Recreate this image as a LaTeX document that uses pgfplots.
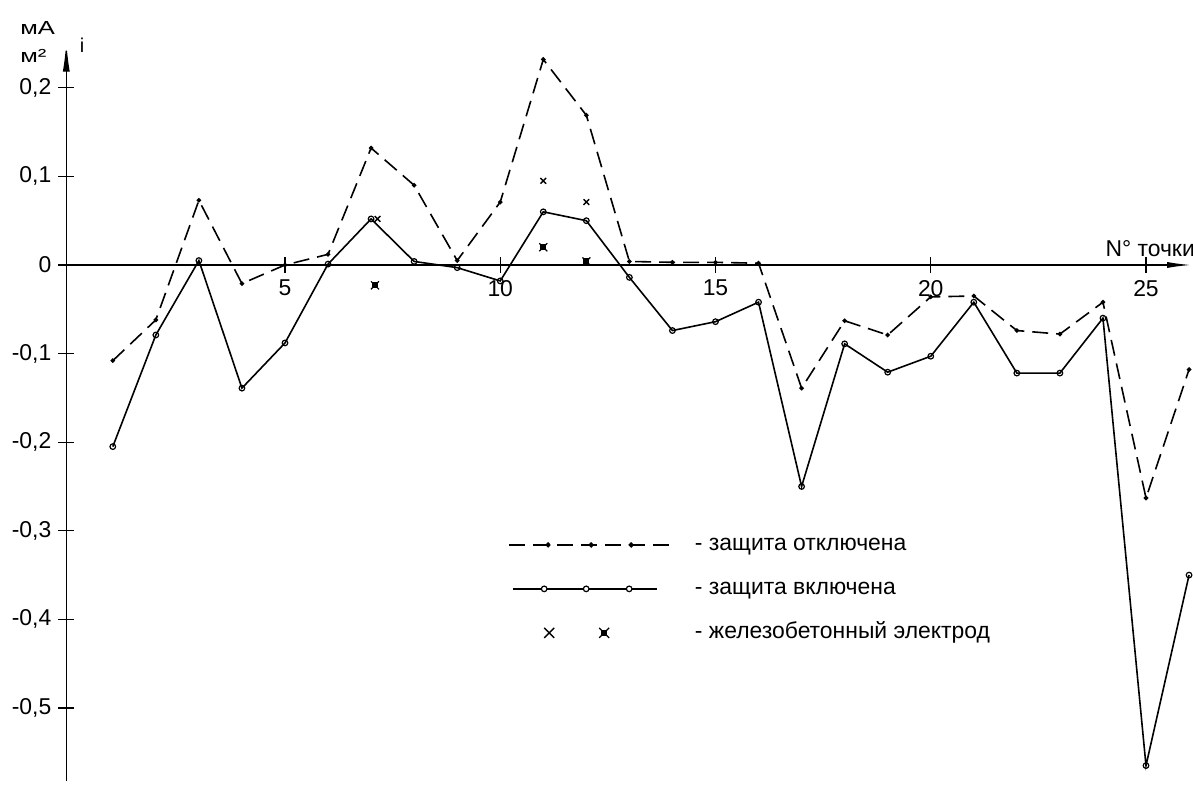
\documentclass[border=0pt]{standalone}
\usepackage{fontspec}
\setmainfont{Liberation Sans}
\usepackage{graphicx}
\usepackage{pgfplots}
\pgfplotsset{compat=1.18}
\usetikzlibrary{arrows.meta}

% electrode mark: a small filled square with a cross over it
\pgfdeclareplotmark{xbox}{%
  \pgfpathrectangle{\pgfpoint{-0.6\pgfplotmarksize}{-0.6\pgfplotmarksize}}{\pgfpoint{1.2\pgfplotmarksize}{1.2\pgfplotmarksize}}%
  \pgfusepathqfillstroke
  \pgfpathmoveto{\pgfpoint{-\pgfplotmarksize}{-\pgfplotmarksize}}%
  \pgfpathlineto{\pgfpoint{\pgfplotmarksize}{\pgfplotmarksize}}%
  \pgfpathmoveto{\pgfpoint{-\pgfplotmarksize}{\pgfplotmarksize}}%
  \pgfpathlineto{\pgfpoint{\pgfplotmarksize}{-\pgfplotmarksize}}%
  \pgfusepathqstroke}

\begin{document}
\begin{tikzpicture}
\begin{axis}[
  x=21.525bp, y=443bp,
  xmin=-0.08, xmax=26.05, ymin=-0.582, ymax=0.252,
  axis x line*=middle, axis y line*=left,
  x axis line style={line width=0.7bp, -{Latex[length=12bp,width=3bp]}},
  y axis line style={line width=0.7bp, -{Latex[length=15bp,width=3.5bp]}},
  hide obscured x ticks=false, hide obscured y ticks=false,
  xtick={5,10,15,20,25},
  xticklabels={5,10,15,20,25},
  ytick={-0.5,-0.4,-0.3,-0.2,-0.1,0,0.1,0.2},
  yticklabels={{-0,5},{-0,4},{-0,3},{-0,2},{-0,1},{0},{0,1},{0,2}},
  tick align=center, major tick length=8bp,
  tick style={line width=0.6bp, black},
  tick label style={font=\fontsize{11.5}{13}\selectfont},
  clip=false,
  legend cell align=left,
  legend style={at={(axis cs:10.18,-0.3036)}, anchor=north west,
    draw=none, fill=none, inner sep=0pt,
    font=\fontsize{11.5}{13}\selectfont, row sep=11.5bp, column sep=12.5bp,
    nodes={inner sep=0pt, text height=8bp, text depth=2.5bp}},
]

% protection switched off
\addplot[black, line width=0.8bp, dash pattern=on 8bp off 4bp,
  mark=*, mark size=0.7bp, mark options={solid},
  legend image code/.code={
    \draw[line width=0.8bp, dash pattern=on 8bp off 4bp] (0bp,0bp) -- (80bp,0bp);
    \fill (19.5bp,0bp) circle (0.9bp) (41bp,0bp) circle (0.9bp) (61bp,0bp) circle (0.9bp);}]
coordinates {
(1,-0.108) (2,-0.062) (3,0.073) (4,-0.021) (5,0.000) (6,0.012) (7,0.132)
(8,0.090) (9,0.005) (10,0.071) (11,0.232) (12,0.169) (13,0.004) (14,0.003)
(15,0.003) (16,0.002) (17,-0.139) (18,-0.063) (19,-0.079) (20,-0.036)
(21,-0.035) (22,-0.074) (23,-0.078) (24,-0.042) (25,-0.263) (26,-0.118)};
\addlegendentry{- защита отключена}

% protection switched on
\addplot[black, line width=0.8bp, mark=o, mark size=1.4bp,
  mark options={fill=white, line width=0.6bp},
  legend image code/.code={
    \draw[line width=0.8bp] (2bp,0bp) -- (74bp,0bp);
    \draw[line width=0.6bp, fill=white] (17.5bp,0bp) circle (1.4bp) (38.5bp,0bp) circle (1.4bp) (60bp,0bp) circle (1.4bp);}]
coordinates {
(1,-0.205) (2,-0.079) (3,0.005) (4,-0.139) (5,-0.088) (6,0.001) (7,0.052)
(8,0.004) (9,-0.003) (10,-0.018) (11,0.060) (12,0.050) (13,-0.014) (14,-0.074)
(15,-0.064) (16,-0.042) (17,-0.250) (18,-0.089) (19,-0.121) (20,-0.103)
(21,-0.042) (22,-0.122) (23,-0.122) (24,-0.060) (25,-0.565) (26,-0.350)};
\addlegendentry{- защита включена}

% reinforced-concrete electrode
\addplot[only marks, black, mark=x, mark size=2bp, mark options={line width=0.7bp}, forget plot]
coordinates {(7.15,0.052) (11,0.095) (12,0.071)};
\addplot[only marks, black, mark=xbox, mark size=2bp, mark options={line width=0.6bp},
  legend image code/.code={
    \draw[line width=0.7bp] (17.5bp,-2.5bp) -- (22.5bp,2.5bp) (17.5bp,2.5bp) -- (22.5bp,-2.5bp);
    \fill (46.3bp,-1.2bp) rectangle (48.7bp,1.2bp);
    \draw[line width=0.6bp] (45bp,-2.5bp) -- (50bp,2.5bp) (45bp,2.5bp) -- (50bp,-2.5bp);}]
coordinates {(7.09,-0.023) (11,0.020) (12,0.004)};
\addlegendentry{- железобетонный электрод}

\node[anchor=west, font=\fontsize{9.5}{11}\selectfont, inner sep=0pt] at (axis cs:-1.156,0.2675) {\scalebox{1.35}[1]{мА}};
\node[anchor=west, font=\fontsize{9.5}{11}\selectfont, inner sep=0pt] at (axis cs:-1.156,0.2359) {\scalebox{1.35}[1]{м²}};
\node[font=\fontsize{10}{12}\selectfont, inner sep=0pt] at (axis cs:0.285,0.248) {i};
\node[anchor=west, font=\fontsize{11.5}{13}\selectfont, inner sep=0pt] at (axis cs:24.05,0.018) {N° точки};

\coordinate (BL) at (axis cs:-1.620,-0.5948);
\coordinate (TR) at (axis cs:26.092,0.2991);
\end{axis}
\pgfresetboundingbox
\path[use as bounding box] (BL) rectangle (TR);
\end{tikzpicture}
\end{document}
